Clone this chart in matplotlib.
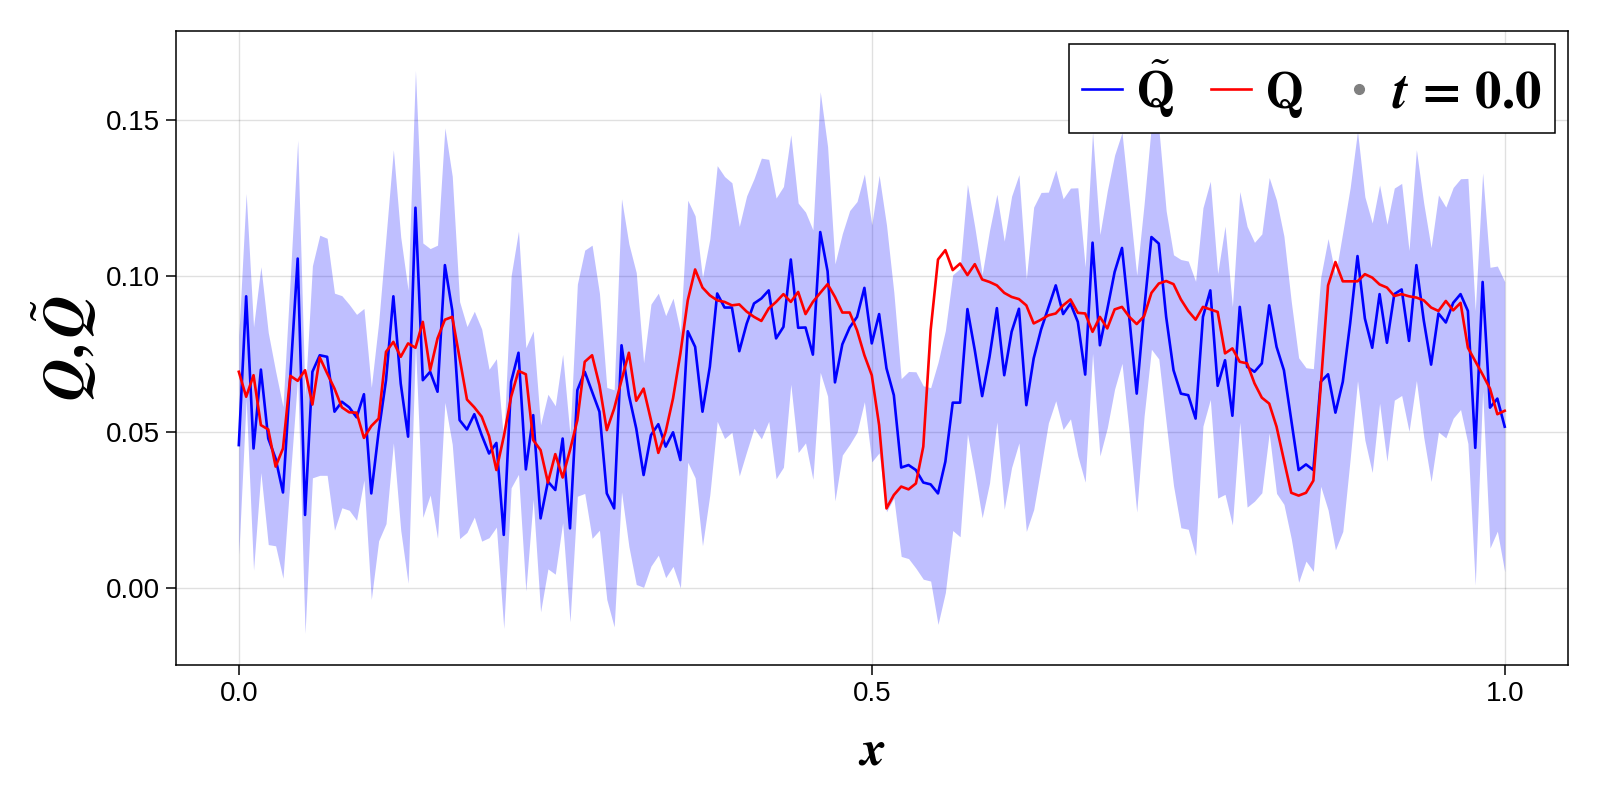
import numpy as np
import matplotlib
matplotlib.use("Agg")
import matplotlib.pyplot as plt
from matplotlib.lines import Line2D

plt.rcParams['font.family'] = ['Liberation Sans', 'DejaVu Sans']

# grid of 173 points on [0, 1]
x = np.linspace(0.0, 1.0, 173)

# Q tilde (ensemble mean), blue
q_tilde = [
    0.0457, 0.0934, 0.0446, 0.0699, 0.0478, 0.0414, 0.0305, 0.0676, 0.1055, 0.0233,
    0.0692, 0.0745, 0.0740, 0.0564, 0.0596, 0.0578, 0.0546, 0.0620, 0.0302, 0.0500,
    0.0665, 0.0934, 0.0654, 0.0484, 0.1218, 0.0665, 0.0692, 0.0628, 0.1034, 0.0889,
    0.0537, 0.0507, 0.0556, 0.0489, 0.0430, 0.0464, 0.0169, 0.0660, 0.0753, 0.0379,
    0.0553, 0.0222, 0.0340, 0.0313, 0.0478, 0.0190, 0.0633, 0.0692, 0.0628, 0.0564,
    0.0302, 0.0254, 0.0777, 0.0617, 0.0510, 0.0361, 0.0489, 0.0524, 0.0452, 0.0498,
    0.0409, 0.0822, 0.0772, 0.0564, 0.0708, 0.0943, 0.0898, 0.0898, 0.0758, 0.0846,
    0.0911, 0.0927, 0.0953, 0.0799, 0.0836, 0.1052, 0.0833, 0.0834, 0.0747, 0.1140,
    0.1014, 0.0658, 0.0780, 0.0834, 0.0868, 0.0961, 0.0783, 0.0877, 0.0703, 0.0617,
    0.0385, 0.0393, 0.0377, 0.0337, 0.0331, 0.0302, 0.0404, 0.0593, 0.0593, 0.0893,
    0.0761, 0.0614, 0.0740, 0.0896, 0.0681, 0.0820, 0.0894, 0.0585, 0.0735, 0.0827,
    0.0898, 0.0969, 0.0877, 0.0911, 0.0852, 0.0683, 0.1106, 0.0777, 0.0892, 0.1012,
    0.1089, 0.0863, 0.0622, 0.0889, 0.1124, 0.1103, 0.0868, 0.0697, 0.0622, 0.0617,
    0.0542, 0.0868, 0.0953, 0.0647, 0.0729, 0.0551, 0.0900, 0.0708, 0.0692, 0.0719,
    0.0905, 0.0772, 0.0697, 0.0537, 0.0377, 0.0395, 0.0377, 0.0660, 0.0684, 0.0561,
    0.0660, 0.0847, 0.1063, 0.0863, 0.0769, 0.0941, 0.0785, 0.0941, 0.0956, 0.0791,
    0.1034, 0.0857, 0.0715, 0.0879, 0.0850, 0.0913, 0.0941, 0.0887, 0.0448, 0.0980,
    0.0577, 0.0606, 0.0516,
]

# Q (reference), red
q_ref = [
    0.0692, 0.0612, 0.0681, 0.0521, 0.0507, 0.0388, 0.0446, 0.0679, 0.0663, 0.0697,
    0.0587, 0.0738, 0.0687, 0.0638, 0.0578, 0.0562, 0.0561, 0.0480, 0.0518, 0.0542,
    0.0756, 0.0788, 0.0740, 0.0783, 0.0769, 0.0852, 0.0697, 0.0799, 0.0859, 0.0868,
    0.0735, 0.0603, 0.0578, 0.0548, 0.0486, 0.0377, 0.0484, 0.0612, 0.0695, 0.0684,
    0.0473, 0.0441, 0.0337, 0.0428, 0.0353, 0.0441, 0.0537, 0.0724, 0.0745, 0.0649,
    0.0505, 0.0574, 0.0665, 0.0753, 0.0599, 0.0638, 0.0537, 0.0432, 0.0500, 0.0607,
    0.0751, 0.0921, 0.1020, 0.0962, 0.0937, 0.0921, 0.0916, 0.0905, 0.0908, 0.0885,
    0.0868, 0.0855, 0.0895, 0.0916, 0.0941, 0.0916, 0.0948, 0.0877, 0.0916, 0.0945,
    0.0973, 0.0932, 0.0882, 0.0882, 0.0825, 0.0745, 0.0681, 0.0521, 0.0254, 0.0297,
    0.0324, 0.0315, 0.0334, 0.0452, 0.0825, 0.1052, 0.1082, 0.1018, 0.1039, 0.1002,
    0.1037, 0.0988, 0.0980, 0.0969, 0.0945, 0.0932, 0.0925, 0.0905, 0.0847, 0.0859,
    0.0873, 0.0879, 0.0905, 0.0924, 0.0881, 0.0879, 0.0820, 0.0868, 0.0831, 0.0892,
    0.0900, 0.0868, 0.0845, 0.0870, 0.0945, 0.0975, 0.0983, 0.0973, 0.0924, 0.0887,
    0.0859, 0.0900, 0.0892, 0.0884, 0.0751, 0.0767, 0.0724, 0.0719, 0.0655, 0.0609,
    0.0590, 0.0516, 0.0409, 0.0304, 0.0295, 0.0304, 0.0343, 0.0644, 0.0969, 0.1044,
    0.0982, 0.0982, 0.0982, 0.1005, 0.0994, 0.0972, 0.0962, 0.0935, 0.0941, 0.0934,
    0.0930, 0.0921, 0.0898, 0.0887, 0.0919, 0.0889, 0.0913, 0.0769, 0.0726, 0.0683,
    0.0638, 0.0556, 0.0567,
]

# half width of the shaded band around Q tilde
spread = [
    0.0350, 0.0330, 0.0390, 0.0330, 0.0340, 0.0280, 0.0275, 0.0320, 0.0380, 0.0380,
    0.0340, 0.0385, 0.0380, 0.0380, 0.0340, 0.0330, 0.0330, 0.0275, 0.0340, 0.0350,
    0.0460, 0.0470, 0.0470, 0.0470, 0.0440, 0.0440, 0.0395, 0.0470, 0.0440, 0.0430,
    0.0380, 0.0330, 0.0330, 0.0340, 0.0270, 0.0270, 0.0300, 0.0340, 0.0390, 0.0390,
    0.0270, 0.0300, 0.0280, 0.0270, 0.0270, 0.0300, 0.0340, 0.0390, 0.0470, 0.0380,
    0.0340, 0.0380, 0.0470, 0.0485, 0.0500, 0.0360, 0.0420, 0.0420, 0.0420, 0.0430,
    0.0410, 0.0420, 0.0420, 0.0430, 0.0410, 0.0410, 0.0420, 0.0400, 0.0400, 0.0410,
    0.0400, 0.0450, 0.0420, 0.0450, 0.0450, 0.0400, 0.0400, 0.0370, 0.0400, 0.0450,
    0.0400, 0.0380, 0.0355, 0.0375, 0.0370, 0.0365, 0.0380, 0.0445, 0.0460, 0.0330,
    0.0285, 0.0300, 0.0315, 0.0310, 0.0310, 0.0420, 0.0420, 0.0410, 0.0430, 0.0400,
    0.0395, 0.0390, 0.0405, 0.0365, 0.0430, 0.0435, 0.0430, 0.0405, 0.0485, 0.0440,
    0.0370, 0.0370, 0.0370, 0.0370, 0.0430, 0.0345, 0.0355, 0.0355, 0.0380, 0.0375,
    0.0370, 0.0370, 0.0380, 0.0340, 0.0360, 0.0370, 0.0340, 0.0370, 0.0430, 0.0430,
    0.0440, 0.0350, 0.0350, 0.0360, 0.0430, 0.0350, 0.0370, 0.0450, 0.0415, 0.0415,
    0.0410, 0.0470, 0.0430, 0.0380, 0.0360, 0.0310, 0.0325, 0.0335, 0.0435, 0.0440,
    0.0480, 0.0435, 0.0400, 0.0390, 0.0400, 0.0350, 0.0380, 0.0340, 0.0340, 0.0290,
    0.0370, 0.0375, 0.0375, 0.0380, 0.0370, 0.0370, 0.0370, 0.0425, 0.0440, 0.0350,
    0.0450, 0.0425, 0.0465,
]

x_ticks = [0.0, 0.5, 1.0]
x_tick_labels = ["0.0", "0.5", "1.0"]
y_ticks = [0.0, 0.05, 0.10, 0.15]
y_tick_labels = ["0.00", "0.05", "0.10", "0.15"]

q_tilde = np.array(q_tilde)
q_ref = np.array(q_ref)
spread = np.array(spread)

fig = plt.figure(figsize=(16, 8), dpi=100)
ax = fig.add_axes([0.1097, 0.1684, 0.8703, 0.7934])

ax.fill_between(x, q_tilde - spread, q_tilde + spread, color=(0, 0, 1, 0.25), linewidth=0)
ax.plot(x, q_tilde, color='blue', lw=1.9)
ax.plot(x, q_ref, color='red', lw=1.9)

ax.set_xlim(-0.05, 1.05)
ax.set_ylim(-0.0249, 0.1786)
ax.set_xticks(x_ticks)
ax.set_xticklabels(x_tick_labels)
ax.set_yticks(y_ticks)
ax.set_yticklabels(y_tick_labels)
ax.tick_params(labelsize=20, length=7.5, width=1.1, pad=4)

ax.set_axisbelow(True)
ax.grid(True, color='black', alpha=0.12, lw=1)
for sp in ax.spines.values():
    sp.set_linewidth(1.1)

ax.set_xlabel(r"$\mathbfit{x}$", fontsize=36, math_fontfamily='stix')
ax.xaxis.set_label_coords(0.5, -0.1)
ax.set_ylabel(r"$\mathbfit{Q}\mathbf{,}\,\tilde{\mathbfit{Q}}$", fontsize=42, math_fontfamily='stix')
ax.yaxis.set_label_coords(-0.055, 0.5)

handles = [
    Line2D([], [], color='blue', lw=1.9),
    Line2D([], [], color='red', lw=1.9),
    Line2D([], [], color='gray', marker='o', linestyle='none', markersize=7),
]
labels = [r"$\mathbf{\tilde{Q}}$", r"$\mathbf{Q}$", r"$\mathbfit{t}\,\mathbf{=}\,\mathbf{0.0}$"]
leg = ax.legend(handles, labels, loc='upper right', bbox_to_anchor=(0.9907, 0.979),
                borderaxespad=0, ncol=3, fontsize=38, handlelength=0.75,
                handletextpad=0.25, columnspacing=0.7, borderpad=0.25,
                fancybox=False, framealpha=1, edgecolor='black')
leg.get_frame().set_linewidth(1.1)
for t in leg.get_texts()[:2]:
    t.set_math_fontfamily('cm')
leg.get_texts()[2].set_math_fontfamily('stix')

fig.savefig("out.png", dpi=100)
